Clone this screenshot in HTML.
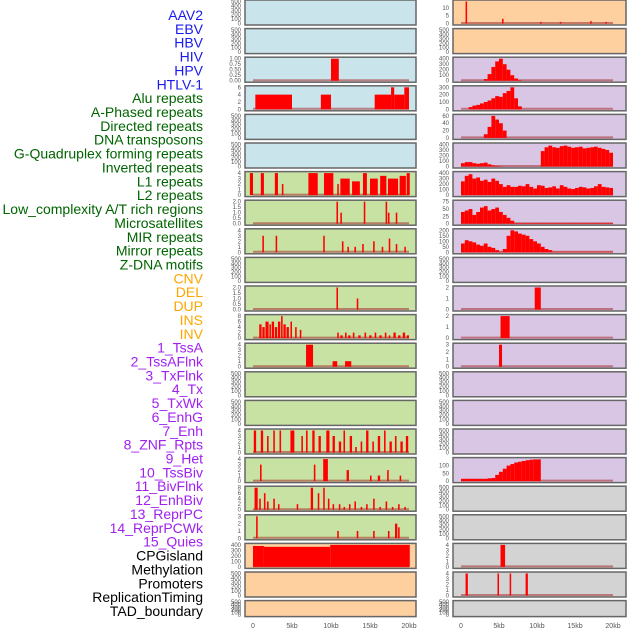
<!DOCTYPE html>
<html><head><meta charset="utf-8"><style>
body{margin:0;background:#fff;width:630px;height:630px;overflow:hidden}
svg{display:block}
</style></head><body>
<svg id="chart" width="630" height="630" xmlns="http://www.w3.org/2000/svg" font-family="Liberation Sans, sans-serif"></svg>
<script>
// ---- data ----
const labels = ["AAV2","EBV","HBV","HIV","HPV","HTLV-1","Alu repeats","A-Phased repeats","Directed repeats","DNA transposons","G-Quadruplex forming repeats","Inverted repeats","L1 repeats","L2 repeats","Low_complexity A/T rich regions","Microsatellites","MIR repeats","Mirror repeats","Z-DNA motifs","CNV","DEL","DUP","INS","INV","1_TssA","2_TssAFlnk","3_TxFlnk","4_Tx","5_TxWk","6_EnhG","7_Enh","8_ZNF_Rpts","9_Het","10_TssBiv","11_BivFlnk","12_EnhBiv","13_ReprPC","14_ReprPCWk","15_Quies","CPGisland","Methylation","Promoters","ReplicationTiming","TAD_boundary"];
const labelGroups = [6,13,5,15,5];
const groupColors = ["#1a1aee","#006400","#ffa500","#a020f0","#000000"];
const leftBg = ["#c9e4eb","#c9e4eb","#c9e4eb","#c9e4eb","#c9e4eb","#c9e4eb","#c8e2a3","#c8e2a3","#c8e2a3","#c8e2a3","#c8e2a3","#c8e2a3","#c8e2a3","#c8e2a3","#c8e2a3","#c8e2a3","#c8e2a3","#c8e2a3","#c8e2a3","#fecf9f","#fecf9f","#fecf9f"];
const rightBg = ["#fecf9f","#fecf9f","#d9c6e4","#d9c6e4","#d9c6e4","#d9c6e4","#d9c6e4","#d9c6e4","#d9c6e4","#d9c6e4","#d9c6e4","#d9c6e4","#d9c6e4","#d9c6e4","#d9c6e4","#d9c6e4","#d9c6e4","#d3d3d3","#d3d3d3","#d3d3d3","#d3d3d3","#d3d3d3"];
const E = null;
const leftTicks = [E,E,[0,0.25,0.5,0.75,1],[0,2,4,6],E,E,[0,1,2,3,4],[0,0.5,1,1.5,2],[0,1,2,3,4],E,[0,0.5,1,1.5,2],[0,2,4,6,8],[0,1,2,3,4],E,E,[0,1,2,3,4],[0,1,2,3,4],[0,2,4,6,8],[0,1,2,3],[0,100,200,300,400],E,E];
const rightTicks = [[0,5,10],E,[0,100,200,300,400],[0,100,200,300],[0,20,40,60],[0,100,200,300,400],[0,100,200,300,400],[0,25,50,75],[0,50,100,150,200],E,[0,1,2],[0,1,2],[0,1,2,3],E,E,E,[0,50,100],E,E,[0,1,2,3,4],[0,1,2,3,4],E];
const rightYmax = [14,0,400,300,60,400,400,75,200,0,2,2,3,0,0,0,142,0,0,4,4,0];
const leftBars = [[],[],[[10,11,1]],
[[0.3,5,4],[8.7,10,4],[15.6,17.7,4],[17.7,18.1,6],[18.1,19.4,4],[19.4,20,6]],
[],[],
[[-0.4,0,4],[1,1.4,4],[2.8,3.2,4],[3.7,3.9,2],[7.1,8.3,4],[9.1,10.3,4],[10.8,11,2],[11.2,12.4,3],[12.7,13.7,2.5],[14.1,14.6,4],[15,16,3],[16.3,17.1,3.5],[17.3,18.6,3],[18.8,19.6,3.5],[19.7,20.1,4]],
[[10.7,10.9,2],[11.2,11.4,1],[14.2,14.4,2],[17,17.2,2],[17.3,17.5,1],[18.3,18.5,1]],
[[1.2,1.4,3],[2.9,3.1,3],[9,9.2,3],[11.4,11.6,2],[12.1,12.3,1],[13,13.2,1],[14,14.2,1.5],[15.4,15.6,2],[16.5,16.7,1],[17.4,17.6,2.5],[18.3,18.5,1.5],[19.4,19.6,1]],
[],
[[10.7,10.9,2],[13.3,13.5,1]],
[[0.8,1.1,5],[1.2,1.5,4],[1.6,2,6],[2.1,2.3,5],[2.4,2.7,6],[2.8,3.1,4],[3.2,3.5,6],[3.6,3.8,8],[3.9,4.2,5],[4.3,4.6,4],[4.8,5,6],[5.4,5.6,4],[6,6.2,3],[10.8,11,2],[11.2,11.5,1],[11.8,12,2],[12.2,12.5,1],[12.8,13,2],[13.5,13.8,1],[14.3,14.5,2],[14.9,15.2,1],[15.6,15.8,2],[16.2,16.5,1],[16.9,17.1,2],[17.4,17.6,1],[18,18.3,2],[18.6,18.9,1],[19.2,19.5,2],[19.7,20,1]],
[[6.8,7.7,4],[10.2,10.8,1],[11.8,12.6,1]],
[],[],
[[0.1,0.4,4],[1,1.3,4],[1.8,2,3],[2.6,2.8,4],[3.4,3.6,4],[4.8,5.3,4],[6.2,6.4,3],[6.8,7,4],[7.6,7.9,4],[8.4,8.7,3],[9.4,9.8,4],[10.2,10.5,3],[11,11.3,2],[11.6,11.8,4],[12.4,12.7,3],[13.1,13.3,1],[13.8,14,2],[14.5,14.8,4],[15.3,15.5,2],[16,16.3,3],[16.8,17,4],[17.5,17.8,2],[18.2,18.4,3],[18.9,19.2,2],[19.6,19.9,3]],
[[0.9,1.1,3],[7.8,8,3],[9,9.6,4],[12,12.3,2],[15,15.2,1],[16,16.3,1],[17.2,17.4,2],[18.8,19,1]],
[[0.2,0.6,8],[0.8,1,4],[1.4,1.6,6],[1.8,2,3],[2.6,2.8,4],[3.2,3.4,2],[5.6,5.8,2],[7.4,7.7,8],[8.3,8.5,6],[9,9.2,8],[9.6,9.8,4],[10.2,10.4,2],[11,11.2,2],[11.6,11.8,1],[12.3,12.5,2],[13,13.2,3],[13.8,14,1],[14.5,14.7,2],[15.4,15.6,4],[16.2,16.4,1],[17,17.2,3],[17.8,18,1],[18.6,18.8,2],[19.4,19.6,1]],
[[0.4,0.6,3],[10.8,11,1],[13.3,13.5,1],[15.4,15.6,1],[17.3,17.5,1],[18.2,18.5,2],[18.6,18.8,1.5]],
[[0,1.4,380],[1.4,9.9,365],[9.9,20.1,410]],
[],[]];
const rightBars = {0:[[0.6,0.8,14],[5.4,5.6,3],[10.4,10.6,1],[13,13.2,1],[17,17.2,1.5],[19,19.2,1]],10:[[9.7,10.5,2]],11:[[5.2,6.4,2]],12:[[5,5.4,3]],19:[[5.2,5.8,4]],20:[[0.6,0.9,4],[4.8,5,4],[6.4,6.6,4],[8.5,8.8,4]]};
// histograms: 0.5 kb bins starting at 0 kb
const histHIV = [0,0,0,0,0,0,30,120,250,350,400,300,200,100,40,10];
const histAlu = [0,0,30,50,60,80,100,120,150,180,170,220,250,300,150,40];
const histDirected = [0,0,0,0,0,0,10,30,60,50,40,20];
const histGQuad = [60,80,80,60,50,60,70,40,20,10,5,0,0,0,0,0,0,0,0,0,0,280,350,380,350,340,370,380,360,340,350,360,330,340,350,360,340,320,300,250];
const histL1 = [250,350,380,300,320,260,280,240,300,260,200,150,180,150,150,170,160,200,150,120,180,170,130,140,160,120,180,150,120,110,130,150,140,120,130,160,200,150,140,130];
const histLowComp = [40,45,50,30,40,55,60,45,50,55,40,30,20,10,2,2,2,2,2,2,2,2,2,2,2,2,2,2,2,2,2,2,2,2,2,2,2,2,2,2];
const histMIR = [80,110,100,90,70,60,80,50,40,20,5,30,150,200,190,170,160,150,120,100,80,50,30,20,5,5,5,5,5,5,5,5,5,5,5,5,5,5,5,5];
const histTssBiv = [15,15,15,15,15,15,15,18,20,40,60,80,100,110,120,125,130,135,138,140,140];
const rightHists = {2:histHIV,3:histAlu,4:histDirected,5:histGQuad,6:histL1,7:histLowComp,8:histMIR,16:histTssBiv};
const xTickLabels = ["0","5kb","10kb","15kb","20kb"];
const xTickValues = [0,5,10,15,20];

// ---- drawing ----
const svg = document.getElementById('chart');
const NS = 'http://www.w3.org/2000/svg';
function mk(tag, attrs, parent){const e=document.createElementNS(NS,tag);for(const k in attrs)e.setAttribute(k,attrs[k]);(parent||svg).appendChild(e);return e;}
const rowTop = i => i*28.6;
const rowH = i => i===21 ? 16 : 25;
const panels = [{x0:245,w:171,kb0:253,pxkb:7.8},{x0:453,w:173,kb0:461,pxkb:7.6}];

// labels
let li=0;
labelGroups.forEach((n,g)=>{for(let k=0;k<n;k++){
  const t=mk('text',{x:203,y:15+li*13.86+5,'text-anchor':'end','font-size':14,fill:groupColors[g]});
  t.textContent=labels[li];
  
  
  li++;}});

function drawPanel(side,i,bg,ticks,ymax,bars){
  const P=panels[side], top=rowTop(i), h=rowH(i);
  const g=mk('g',{});
  
  
  mk('rect',{x:P.x0,y:top,width:P.w,height:h,fill:bg,stroke:'#666','stroke-width':1.5},g);
  const yb=top+h-1.5, yt=top+1.5;
  const tk = ticks || [0,100,200,300,400,500];
  const ym = ymax || tk[tk.length-1];
  const ys = v => yb-(v/ym)*(yb-yt);
  const xs = kb => P.kb0+kb*P.pxkb;
  tk.forEach(v=>{
    const t=mk('text',{x:P.x0-4,y:ys(v)+2,'text-anchor':'end','font-size':6,fill:'#555'},g);
    t.textContent = (ticks && ticks[1]===0.25)? v.toFixed(2) : (ticks && ticks[1]===0.5 ? v.toFixed(1) : String(v));
    
    
  });
  if(bars && bars.length){
    mk('line',{x1:xs(0),x2:xs(20),y1:yb-0.5,y2:yb-0.5,stroke:'rgba(170,60,60,0.6)','stroke-width':2},g);
    bars.forEach(b=>{
      const r=mk('rect',{x:xs(b[0]),y:ys(Math.min(b[2],ym)),width:Math.max(1.5,xs(b[1])-xs(b[0])),height:yb-ys(Math.min(b[2],ym)),fill:'#ff0000'},g);
      
      
    });
  }
}
for(let i=0;i<22;i++){
  drawPanel(0,i,leftBg[i],leftTicks[i],null,leftBars[i]);
  let rb = rightBars[i] || [];
  if(rightHists[i]){rb = rightHists[i].map((v,k)=>[k*0.5,k*0.5+0.5,v]).filter(b=>b[2]>0);}
  drawPanel(1,i,rightBg[i],rightTicks[i],rightYmax[i]||null,rb);
}
// x axes
panels.forEach((P,s)=>{xTickValues.forEach((v,k)=>{
  const t=mk('text',{x:P.kb0+v*P.pxkb,y:628,'text-anchor':'middle','font-size':7,fill:'#555'});
  t.textContent=xTickLabels[k];
  
  
});});
</script>
</body></html>
